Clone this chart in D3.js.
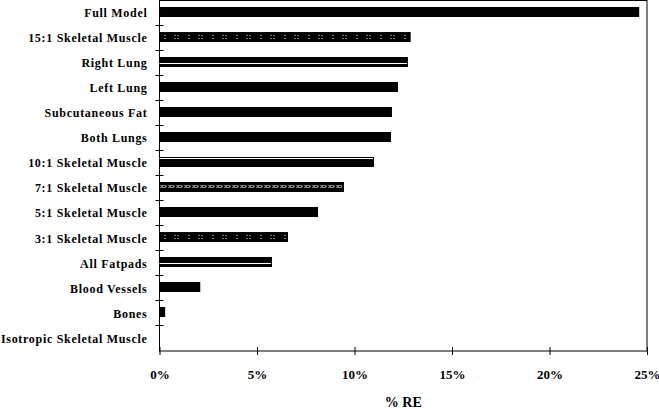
<!DOCTYPE html>
<html lang="en">
<head>
<meta charset="UTF-8">
<title>% RE by model</title>
<script src="https://cdn.jsdelivr.net/npm/d3@7/dist/d3.min.js"></script>
<style>
    body { margin: 0; background: #fff; }
    svg { display: block; }
</style>
</head>
<body>
<svg width="659" height="409"></svg>
<script>
    // data
    var categories = ["Full Model", "15:1 Skeletal Muscle", "Right Lung", "Left Lung",
        "Subcutaneous Fat", "Both Lungs", "10:1 Skeletal Muscle", "7:1 Skeletal Muscle",
        "5:1 Skeletal Muscle", "3:1 Skeletal Muscle", "All Fatpads", "Blood Vessels",
        "Bones", "Isotropic Skeletal Muscle"];
    var values = [24.6, 12.88, 12.74, 12.23, 11.92, 11.87, 11.0, 9.46, 8.13, 6.59, 5.77, 2.09, 0.29, 0];
    var fills = ["solid", "dots", "midline", "solid", "solid", "solid", "topline", "cross",
        "solid", "dots", "midline", "solid", "solid", "solid"];
    var xTicks = [0, 5, 10, 15, 20, 25];

    var svg = d3.select("svg");
    var marge = {top: 0.5, left: 159.5, right: 12, bottom: 58};
    var width = +svg.attr("width"), height = +svg.attr("height");
    var w = width - marge.left - marge.right;
    var h = height - marge.top - marge.bottom;
    var serif = "'Liberation Serif', 'Times New Roman', serif";

    var g = svg.append("g").attr("transform", "translate(" + marge.left + "," + marge.top + ")");

    var x = d3.scaleLinear().domain([0, 25]).range([0, w]);
    var y = d3.scaleBand().domain(categories).range([0, h]).paddingInner(0.6).paddingOuter(0.3);
    var bh = Math.round(y.bandwidth());
    function barTop(d) { return Math.floor(y(d)) - 0.5; }
    function fillOf(d) { return fills[categories.indexOf(d)]; }
    function valOf(d) { return values[categories.indexOf(d)]; }

    // patterns (used inside groups moved to each strip's top, so they line up)
    var defs = svg.append("defs");
    var pd = defs.append("pattern").attr("id", "dots").attr("patternUnits", "userSpaceOnUse")
        .attr("width", 24).attr("height", 4);
    [[5, 0], [5, 3], [15, 0], [15, 3], [18, 0], [18, 3]].forEach(function (p) {
        pd.append("rect").attr("x", p[0]).attr("y", p[1]).attr("width", 1).attr("height", 1).attr("fill", "#fff");
    });
    var pc = defs.append("pattern").attr("id", "cross").attr("patternUnits", "userSpaceOnUse")
        .attr("width", 8).attr("height", 3);
    [[1, 0], [3, 0], [2, 1], [1, 2], [3, 2], [5, 0], [6, 1], [5, 2]].forEach(function (p) {
        pc.append("rect").attr("x", p[0]).attr("y", p[1]).attr("width", 1).attr("height", 1).attr("fill", "#fff");
    });

    // frame
    g.append("rect").attr("x", 0).attr("y", 0).attr("width", w).attr("height", h)
        .attr("fill", "none").attr("stroke", "#000").attr("stroke-width", 1);

    // bars
    var bars = g.selectAll(".bar").data(categories).enter().append("g")
        .attr("class", "bar")
        .attr("transform", function (d) { return "translate(0," + barTop(d) + ")"; });
    bars.append("rect")
        .attr("x", 0).attr("y", 0)
        .attr("width", function (d) { return x(valOf(d)); })
        .attr("height", bh)
        .attr("fill", "#000");
    // pattern strips
    bars.filter(function (d) { return fillOf(d) === "dots" || fillOf(d) === "cross"; })
        .append("g")
        .attr("transform", "translate(0,3)")
        .append("rect")
        .attr("x", 0).attr("y", 0)
        .attr("width", function (d) { return Math.max(0, x(valOf(d)) - 2); })
        .attr("height", function (d) { return fillOf(d) === "dots" ? 4 : 3; })
        .attr("fill", function (d) { return "url(#" + fillOf(d) + ")"; });
    // white stripes
    bars.filter(function (d) { return fillOf(d) === "midline" || fillOf(d) === "topline"; })
        .append("line")
        .attr("x1", 0)
        .attr("x2", function (d) { return x(valOf(d)) - 1; })
        .attr("y1", function (d) { return fillOf(d) === "midline" ? 6.5 : 1.5; })
        .attr("y2", function (d) { return fillOf(d) === "midline" ? 6.5 : 1.5; })
        .attr("stroke", "#fff").attr("stroke-width", 1);

    // y axis: labels and crossing ticks between categories
    var step = y.step();
    g.selectAll(".ytick").data(categories.slice(1)).enter().append("line")
        .attr("x1", -4).attr("x2", 4)
        .attr("y1", function (d) { return Math.round(y(d) - y.paddingInner() * step / 2); })
        .attr("y2", function (d) { return Math.round(y(d) - y.paddingInner() * step / 2); })
        .attr("stroke", "#000");
    g.selectAll(".ylab").data(categories).enter().append("text")
        .attr("x", -12)
        .attr("y", function (d) { return y(d) + bh / 2; })
        .attr("dy", "0.35em")
        .attr("text-anchor", "end")
        .style("font-family", serif)
        .style("font-size", "12px")
        .style("font-weight", "bold")
        .style("letter-spacing", "0.7px")
        .text(function (d) { return d; });

    // x axis
    var xAxis = d3.axisBottom(x).tickValues(xTicks).tickSize(4).tickPadding(15)
        .tickFormat(function (d) { return d + "%"; });
    var ax = g.append("g").attr("transform", "translate(0," + h + ")").call(xAxis);
    ax.select(".domain").remove();
    ax.selectAll(".tick line").attr("y1", -4).attr("y2", 4);
    ax.selectAll("text")
        .style("font-family", serif)
        .style("font-size", "13px")
        .style("font-weight", "bold")
        .attr("fill", "#000");

    g.append("text")
        .attr("x", w / 2)
        .attr("y", h + 56)
        .attr("text-anchor", "middle")
        .style("font-family", serif)
        .style("font-size", "14px")
        .style("font-weight", "bold")
        .text("% RE");
</script>
</body>
</html>
